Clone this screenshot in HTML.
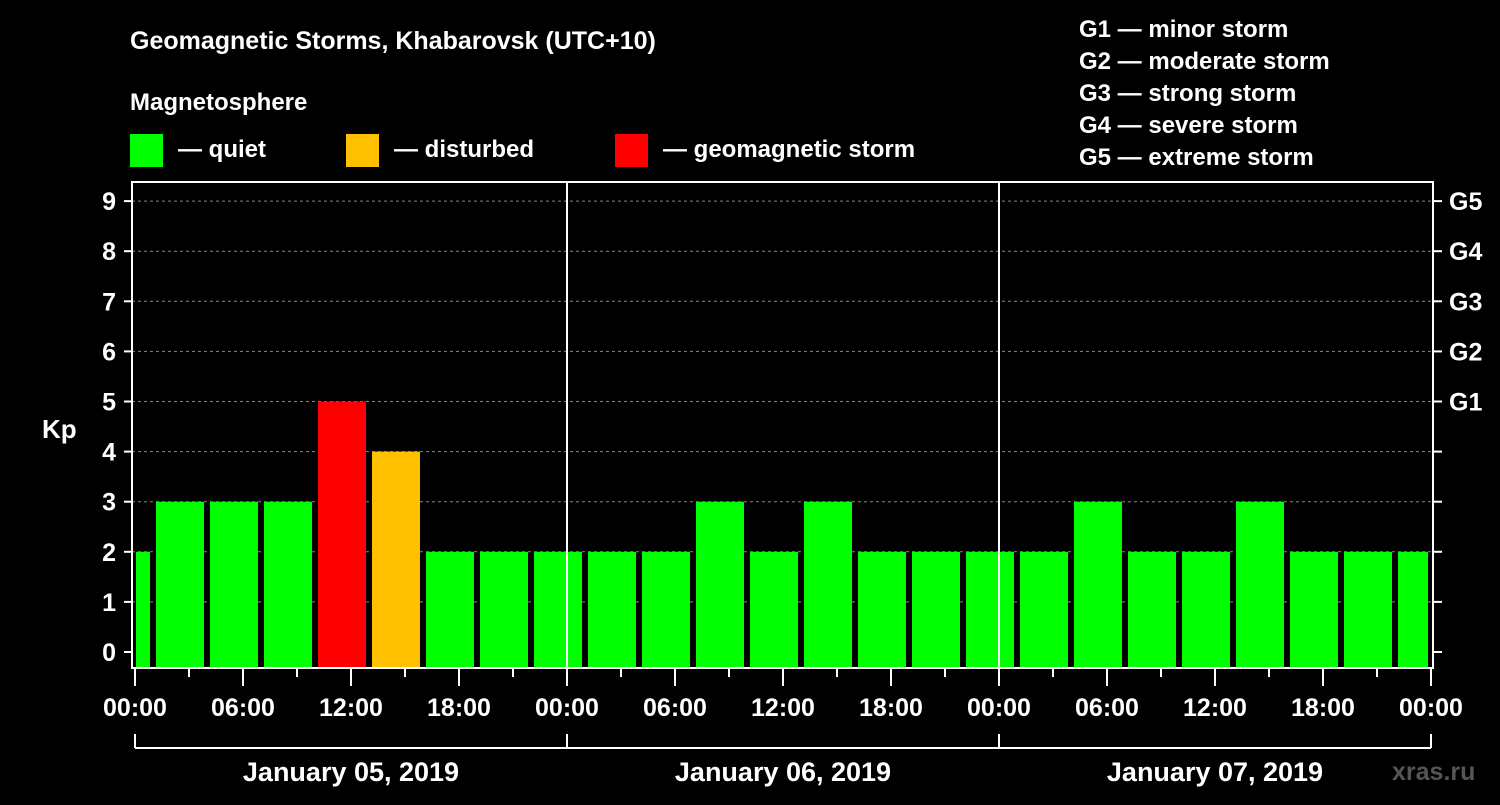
<!DOCTYPE html>
<html><head><meta charset="utf-8"><style>
html,body{margin:0;padding:0;background:#000;}
svg text{font-family:"Liberation Sans",Arial,sans-serif;font-weight:bold;fill:#fff;}
</style></head><body>
<svg id="chart" width="1500" height="800" viewBox="0 0 1500 800" xmlns="http://www.w3.org/2000/svg">
<rect width="1500" height="800" fill="#000"/>
<text x="130" y="49" font-size="25">Geomagnetic Storms, Khabarovsk (UTC+10)</text>
<text x="130" y="110" font-size="24">Magnetosphere</text>
<g>
<rect x="130" y="134" width="33" height="33" fill="#00ff00"/>
<text x="178" y="157" font-size="24">— quiet</text>
<rect x="346" y="134" width="33" height="33" fill="#ffc000"/>
<text x="394" y="157" font-size="24">— disturbed</text>
<rect x="615" y="134" width="33" height="33" fill="#ff0000"/>
<text x="663" y="157" font-size="24">— geomagnetic storm</text>
</g>
<g font-size="24">
<text x="1079" y="37">G1 — minor storm</text>
<text x="1079" y="69">G2 — moderate storm</text>
<text x="1079" y="101">G3 — strong storm</text>
<text x="1079" y="133">G4 — severe storm</text>
<text x="1079" y="165">G5 — extreme storm</text>
</g>
<text x="42" y="438" font-size="26">Kp</text>
<text x="1392" y="780" font-size="25" fill="#555" style="fill:#555">xras.ru</text>
<g id="grid"></g>
<g id="bars"></g>
<g id="axes"></g>
</svg>
<script>
const kpValues = [2,3,3,3,5,4,2,2,2, 2,2,3,2,3,2,2,2, 2,3,2,2,3,2,2,2];
const yTicks = [0,1,2,3,4,5,6,7,8,9];
const gLabels = ["G1","G2","G3","G4","G5"];
const xTickLabels = ["00:00","06:00","12:00","18:00","00:00","06:00","12:00","18:00","00:00","06:00","12:00","18:00","00:00"];
const dayLabels = ["January 05, 2019","January 06, 2019","January 07, 2019"];

const NS="http://www.w3.org/2000/svg";
const L=132,R=1433,T=182,B=668;
const X0=135,PXH=18;
const xs=h=>X0+h*PXH;
const ys=v=>652-v*50.1;
function mk(tag,attrs,parent){const e=document.createElementNS(NS,tag);for(const k in attrs)e.setAttribute(k,attrs[k]);parent.appendChild(e);return e;}
const grid=document.getElementById('grid'),bars=document.getElementById('bars'),axes=document.getElementById('axes');

yTicks.forEach(v=>{if(v>0){const g=mk('line',{x1:L,x2:R,y1:ys(v),y2:ys(v),stroke:'#888','stroke-dasharray':'3,3','stroke-width':1},grid);

}});

kpValues.forEach((v,i)=>{
  const c=xs(3*i-0.5);
  let x1=Math.max(c-24,136),x2=Math.min(c+24,1428);
  const col=v>=5?'#ff0000':(v>=4?'#ffc000':'#00ff00');
  const r=mk('rect',{x:x1,y:ys(v),width:x2-x1,height:B-ys(v),fill:col},bars);
  
  
});

// day dividers
[1,2].forEach(d=>{const l=mk('line',{x1:xs(24*d),x2:xs(24*d),y1:T,y2:B,stroke:'#fff','stroke-width':2},axes);

});
const fr=mk('rect',{x:L,y:T,width:R-L,height:B-T,fill:'none',stroke:'#fff','stroke-width':2},axes);



yTicks.forEach(v=>{
  const y=ys(v);
  mk('line',{x1:124,x2:L,y1:y,y2:y,stroke:'#fff','stroke-width':2},axes);
  mk('line',{x1:R,x2:1442,y1:y,y2:y,stroke:'#fff','stroke-width':2},axes);
  const t=mk('text',{x:116,y:y+9,'font-size':25,'text-anchor':'end'},axes);t.textContent=v;
  
  
  if(v>=5){const g=mk('text',{x:1449,y:y+9,'font-size':25},axes);g.textContent=gLabels[v-5];
  
  }
});

for(let h=0;h<=72;h+=3){
  const x=xs(h),major=h%6===0;
  mk('line',{x1:x,x2:x,y1:B,y2:major?686:677,stroke:'#fff','stroke-width':2},axes);
}
xTickLabels.forEach((s,i)=>{const t=mk('text',{x:xs(i*6),y:716,'font-size':25,'text-anchor':'middle'},axes);t.textContent=s;

});

mk('line',{x1:xs(0),x2:xs(72),y1:748,y2:748,stroke:'#fff','stroke-width':2},axes);
[0,1,2,3].forEach(d=>mk('line',{x1:xs(24*d),x2:xs(24*d),y1:734,y2:748,stroke:'#fff','stroke-width':2},axes));
dayLabels.forEach((s,i)=>{const t=mk('text',{x:xs(24*i+12),y:781,'font-size':27,'text-anchor':'middle'},axes);t.textContent=s;

});
</script>
</body></html>
